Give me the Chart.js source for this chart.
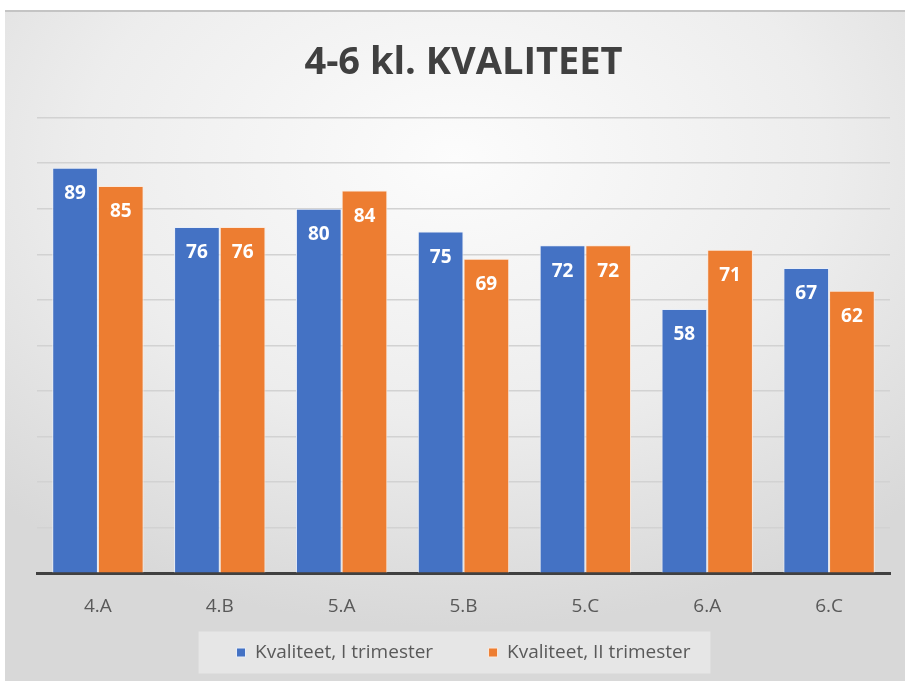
<!DOCTYPE html>
<html>
<head>
<meta charset="utf-8">
<script src="https://cdn.jsdelivr.net/npm/chart.js@4"></script>
<style>
  html, body { margin: 0; padding: 0; background: #ffffff; }
  #frame {
    position: absolute; left: 5px; top: 10px; width: 900px; height: 671px;
    background: radial-gradient(ellipse 75% 70% at 50% 22%, #fcfcfc 0%, #ededed 55%, #d8d8d8 100%);
    border-top: 2px solid #c4c4c4;
    box-sizing: border-box;
  }
</style>
</head>
<body>
<div id="frame"><canvas id="bar-chart"></canvas></div>
<script>
var categories = ["4.A", "4.B", "5.A", "5.B", "5.C", "6.A", "6.C"];
var trimester1 = [89, 76, 80, 75, 72, 58, 67];
var trimester2 = [85, 76, 84, 69, 72, 71, 62];
var seriesNames = ["Kvaliteet, I trimester", "Kvaliteet, II trimester"];

// white numbers inside the top of each bar
var barLabels = {
  id: 'barLabels',
  afterDatasetsDraw: function(chart) {
    var ctx = chart.ctx;
    ctx.save();
    ctx.fillStyle = '#ffffff';
    ctx.font = 'bold 19px "Open Sans"';
    ctx.textAlign = 'center';
    ctx.textBaseline = 'middle';
    chart.data.datasets.forEach(function(ds, i) {
      var meta = chart.getDatasetMeta(i);
      meta.data.forEach(function(bar, j) {
        ctx.fillText(ds.data[j], bar.x, bar.y + 26);
      });
    });
    ctx.restore();
  }
};

// light box behind the legend
var legendBox = {
  id: 'legendBox',
  beforeDraw: function(chart) {
    var boxes = chart.legend.legendHitBoxes;
    if (!boxes || !boxes.length) return;
    var left = boxes[0].left - 38;
    var last = boxes[boxes.length - 1];
    var right = last.left + last.width + 20;
    var mid = boxes[0].top + boxes[0].height / 2;
    var ctx = chart.ctx;
    ctx.save();
    ctx.fillStyle = '#e6e6e6';
    ctx.fillRect(left, mid - 21, right - left, 42);
    ctx.restore();
  }
};

new Chart(document.getElementById("bar-chart"), {
  type: 'bar',
  data: {
    labels: categories,
    datasets: [
      {
        label: seriesNames[0],
        data: trimester1,
        backgroundColor: '#4472C4',
        borderColor: '#e8eef8',
        borderWidth: 1
      },
      {
        label: seriesNames[1],
        data: trimester2,
        backgroundColor: '#ED7D31',
        borderColor: '#fbe9dc',
        borderWidth: 1
      }
    ]
  },
  options: {
    responsive: true,
    maintainAspectRatio: false,
    animation: false,
    layout: { padding: { left: 32, right: 15, top: 0, bottom: 9 } },
    datasets: { bar: { categoryPercentage: 0.75, barPercentage: 1.0 } },
    scales: {
      x: {
        grid: { display: false },
        border: { color: '#404040', width: 3 },
        ticks: { color: '#595959', font: { family: 'Open Sans', size: 19 }, padding: 14 }
      },
      y: {
        min: 0,
        max: 100,
        ticks: { display: false, stepSize: 10 },
        grid: { color: '#d2d2d2', lineWidth: 1.5, drawTicks: false },
        border: { display: false }
      }
    },
    plugins: {
      title: {
        display: true,
        text: '4-6 kl. KVALITEET',
        color: '#404040',
        font: { family: 'Open Sans', size: 38, weight: 'bold' },
        padding: { top: 28, bottom: 32 }
      },
      legend: {
        position: 'bottom',
        labels: {
          color: '#595959',
          font: { family: 'Open Sans', size: 19 },
          boxWidth: 9,
          boxHeight: 9,
          padding: 11,
          generateLabels: function(chart) {
            var items = Chart.defaults.plugins.legend.labels.generateLabels(chart);
            // widen the gap after the first entry
            items[0].text = items[0].text + '         ';
            return items;
          }
        }
      },
      tooltip: { enabled: false }
    }
  },
  plugins: [legendBox, barLabels]
});
</script>
</body>
</html>
